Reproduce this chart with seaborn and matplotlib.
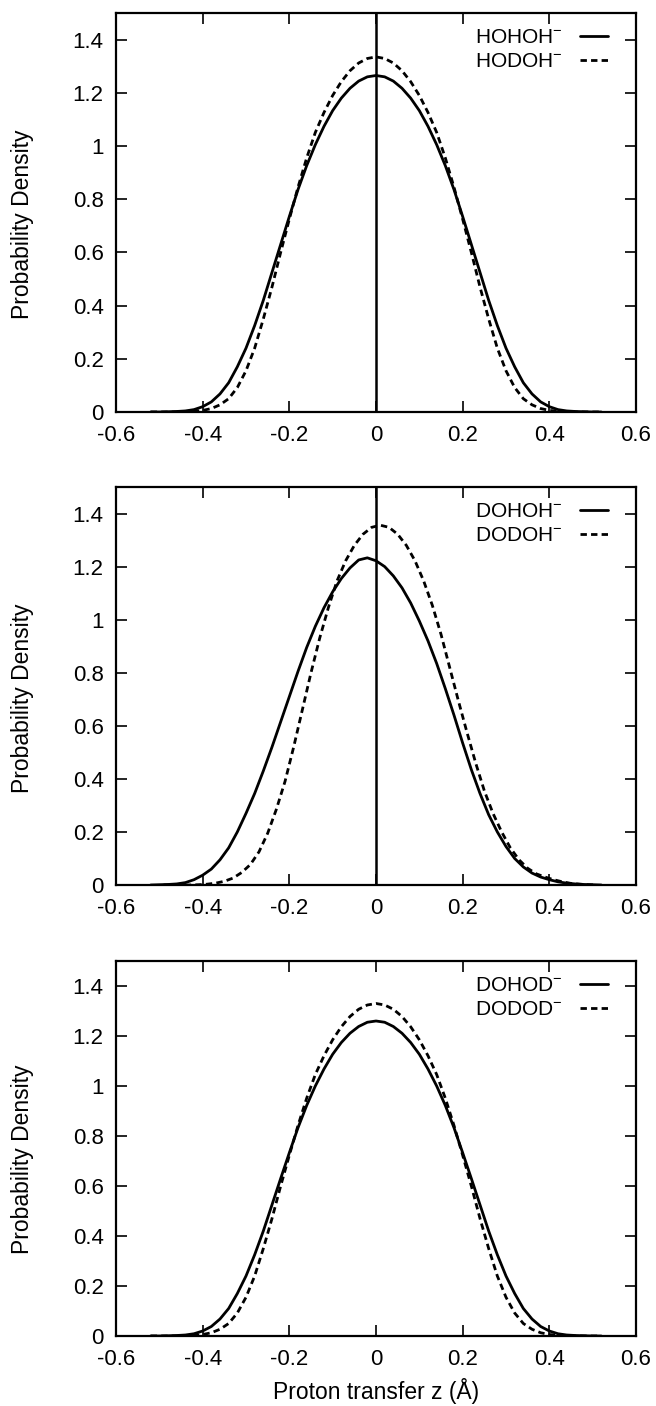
import numpy as np
import pandas as pd
import matplotlib
matplotlib.use("Agg")
import matplotlib.pyplot as plt
import seaborn as sns

# ---------------- data ----------------
z = [round(-0.52 + 0.02 * i, 2) for i in range(53)]          # -0.52 ... 0.52
z_dodoh = [round(-0.49 + 0.02 * i, 2) for i in range(51)]    # -0.49 ... 0.51

# Panel 1
hohoh = [0.0, 0.0, 0.001, 0.002, 0.004, 0.009, 0.02, 0.038, 0.068, 0.11, 0.17,
         0.24, 0.325, 0.42, 0.525, 0.63, 0.735, 0.836, 0.926, 1.005, 1.074, 1.133,
         1.18, 1.217, 1.244, 1.26, 1.265, 1.26, 1.244, 1.217, 1.18, 1.133, 1.074,
         1.005, 0.926, 0.836, 0.735, 0.63, 0.525, 0.42, 0.325, 0.24, 0.17, 0.11,
         0.068, 0.038, 0.02, 0.009, 0.004, 0.002, 0.001, 0.0, 0.0]
hodoh = [0.0, 0.0, 0.0, 0.0, 0.001, 0.003, 0.006, 0.013, 0.027, 0.05, 0.092,
         0.155, 0.24, 0.35, 0.47, 0.60, 0.725, 0.845, 0.955, 1.051, 1.126, 1.19,
         1.242, 1.283, 1.312, 1.329, 1.335, 1.329, 1.312, 1.283, 1.242, 1.19, 1.126,
         1.051, 0.955, 0.845, 0.725, 0.60, 0.47, 0.35, 0.24, 0.155, 0.092, 0.05,
         0.027, 0.013, 0.006, 0.003, 0.001, 0.0, 0.0, 0.0, 0.0]

# Panel 2
dohoh = [0.0, 0.001, 0.002, 0.004, 0.009, 0.02, 0.037, 0.06, 0.095, 0.14, 0.20,
         0.27, 0.345, 0.43, 0.52, 0.615, 0.71, 0.805, 0.895, 0.975, 1.045, 1.105,
         1.155, 1.195, 1.225, 1.233, 1.222, 1.20, 1.165, 1.12, 1.063, 0.995, 0.92,
         0.835, 0.74, 0.64, 0.535, 0.435, 0.345, 0.265, 0.20, 0.145, 0.10, 0.068,
         0.045, 0.03, 0.02, 0.012, 0.007, 0.004, 0.002, 0.001, 0.0]
dodoh = [0.0, 0.0, 0.0, 0.0, 0.001, 0.003, 0.007, 0.014, 0.026, 0.047, 0.077,
         0.125, 0.195, 0.285, 0.39, 0.52, 0.66, 0.80, 0.93, 1.045, 1.146, 1.222,
         1.28, 1.322, 1.348, 1.356, 1.348, 1.322, 1.28, 1.222, 1.146, 1.054, 0.945,
         0.82, 0.695, 0.575, 0.46, 0.355, 0.27, 0.20, 0.14, 0.095, 0.063, 0.042,
         0.03, 0.02, 0.012, 0.006, 0.003, 0.001, 0.0]

# Panel 3
dohod = [0.0, 0.0, 0.001, 0.002, 0.004, 0.009, 0.02, 0.038, 0.068, 0.11, 0.17,
         0.24, 0.325, 0.42, 0.525, 0.63, 0.733, 0.833, 0.922, 1.0, 1.068, 1.127,
         1.174, 1.211, 1.238, 1.255, 1.26, 1.255, 1.238, 1.211, 1.174, 1.127, 1.068,
         1.0, 0.922, 0.833, 0.733, 0.63, 0.525, 0.42, 0.325, 0.24, 0.17, 0.11,
         0.068, 0.038, 0.02, 0.009, 0.004, 0.002, 0.001, 0.0, 0.0]
dodod = [0.0, 0.0, 0.0, 0.0, 0.001, 0.003, 0.006, 0.013, 0.027, 0.05, 0.092,
         0.155, 0.24, 0.35, 0.47, 0.60, 0.723, 0.842, 0.951, 1.046, 1.121, 1.185,
         1.237, 1.278, 1.307, 1.324, 1.33, 1.324, 1.307, 1.278, 1.237, 1.185, 1.121,
         1.046, 0.951, 0.842, 0.723, 0.60, 0.47, 0.35, 0.24, 0.155, 0.092, 0.05,
         0.027, 0.013, 0.006, 0.003, 0.001, 0.0, 0.0, 0.0, 0.0]

panels = [
    (["HOHOH$^{-}$", "HODOH$^{-}$"], [(z, hohoh), (z, hodoh)], True),
    (["DOHOH$^{-}$", "DODOH$^{-}$"], [(z, dohoh), (z_dodoh, dodoh)], True),
    (["DOHOD$^{-}$", "DODOD$^{-}$"], [(z, dohod), (z, dodod)], False),
]

xticks = [-0.6, -0.4, -0.2, 0, 0.2, 0.4, 0.6]
xticklabels = ["-0.6", "-0.4", "-0.2", "0", "0.2", "0.4", "0.6"]
yticks = [0, 0.2, 0.4, 0.6, 0.8, 1.0, 1.2, 1.4]
yticklabels = ["0", "0.2", "0.4", "0.6", "0.8", "1", "1.2", "1.4"]

# ---------------- style ----------------
sns.set_style("ticks")
plt.rcParams["font.family"] = ["Liberation Sans", "DejaVu Sans"]
plt.rcParams["mathtext.fontset"] = "custom"
plt.rcParams["mathtext.rm"] = "Liberation Sans"
plt.rcParams["mathtext.it"] = "Liberation Sans"
plt.rcParams["mathtext.bf"] = "Liberation Sans"
plt.rcParams["text.color"] = "black"
plt.rcParams["axes.labelcolor"] = "black"
plt.rcParams["legend.labelcolor"] = "black"

W, H = 656, 1406
fig = plt.figure(figsize=(W / 100, H / 100), dpi=100)

left_px, right_px = 116, 636
boxes = [(13, 412), (487, 885), (961, 1336)]

FS_TICK = 16
FS_LAB = 16.5
FS_LEG = 15
for i, ((labels, series, vline), (top, bot)) in enumerate(zip(panels, boxes)):
    hpx = bot - top
    ax = fig.add_axes([left_px / W, 1 - bot / H, (right_px - left_px) / W, hpx / H])
    for j, (lab, (xs, ys)) in enumerate(zip(labels, series)):
        df = pd.DataFrame({"z": xs, "density": ys})
        sns.lineplot(data=df, x="z", y="density", ax=ax, color="black", lw=2.0,
                     label=lab, estimator=None)
        if j == 1:
            ax.lines[-1].set_dashes((2.3, 1.5))
    if vline:
        ax.axvline(0, color="black", lw=1.8, zorder=1)
    ax.set_xlim(-0.6, 0.6)
    ax.set_ylim(0, 1.5)
    ax.set_xticks(xticks)
    ax.set_xticklabels(xticklabels)
    ax.set_yticks(yticks)
    ax.set_yticklabels(yticklabels)
    ax.tick_params(direction="in", length=8, width=1.2, top=True, right=True,
                   labelsize=FS_TICK, colors="black")
    ax.tick_params(axis="x", pad=9.5)
    ax.tick_params(axis="y", pad=9)
    for s in ax.spines.values():
        s.set_linewidth(1.6)
        s.set_color("black")
    ax.set_ylabel("Probability Density", fontsize=FS_LAB, color="black")
    ax.yaxis.set_label_coords(-0.158, 0.47)
    if i == 2:
        ax.set_xlabel("Proton transfer z (Å)", fontsize=FS_LAB, color="black")
        ax.xaxis.set_label_coords(0.5, -0.112)
    else:
        ax.set_xlabel("")
    ax.legend(loc="upper right", bbox_to_anchor=(1 - 28 / 520, 1 - 15 / hpx),
              frameon=False, markerfirst=False, fontsize=FS_LEG, handlelength=1.35,
              handletextpad=0.8, labelspacing=0.25, borderpad=0, borderaxespad=0,
              labelcolor="black")

fig.savefig("out.png", dpi=100)
